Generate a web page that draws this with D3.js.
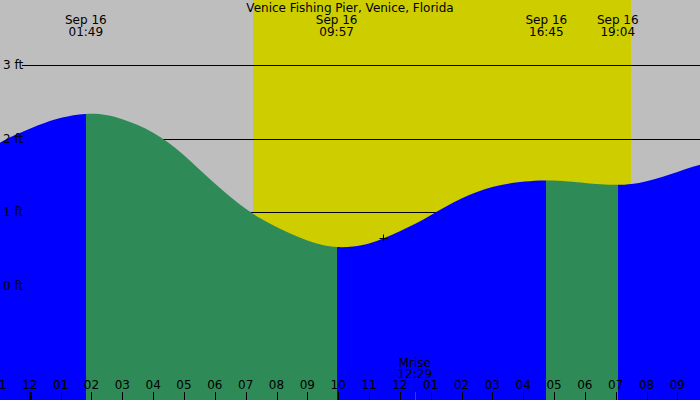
<!DOCTYPE html>
<html>
<head>
<meta charset="utf-8">
<script src="https://cdn.jsdelivr.net/npm/d3@7"></script>
<style>
  body { margin: 0; background: #fff; }
  svg { display: block; }
  text { font-family: "DejaVu Sans", sans-serif; font-size: 12px; fill: #000; }
</style>
</head>
<body>
<svg id="chart" width="700" height="400"></svg>
<script>
// tide heights (ft), every half hour plus the turns
const tideTimes = [
    '09-15 23:00', '09-15 23:30', '09-16 00:00', '09-16 00:30', '09-16 01:00', '09-16 01:49',
    '09-16 02:30', '09-16 03:00', '09-16 03:30', '09-16 04:00', '09-16 04:30', '09-16 05:00',
    '09-16 05:30', '09-16 06:00', '09-16 06:30', '09-16 07:00', '09-16 07:30', '09-16 08:00',
    '09-16 08:30', '09-16 09:00', '09-16 09:30', '09-16 09:57', '09-16 10:30', '09-16 11:00',
    '09-16 11:30', '09-16 12:00', '09-16 12:30', '09-16 13:00', '09-16 13:30', '09-16 14:00',
    '09-16 14:30', '09-16 15:00', '09-16 15:30', '09-16 16:00', '09-16 16:45', '09-16 17:30',
    '09-16 18:00', '09-16 18:30', '09-16 19:04', '09-16 19:30', '09-16 20:00', '09-16 20:30',
    '09-16 21:00', '09-16 21:30', '09-16 22:00'
];
const tideHeights = [
    1.94, 2.05, 2.14, 2.22, 2.29, 2.35,
    2.33, 2.27, 2.19, 2.09, 1.95, 1.78,
    1.58, 1.39, 1.21, 1.04, 0.91, 0.80,
    0.70, 0.61, 0.55, 0.52, 0.53, 0.57,
    0.65, 0.74, 0.84, 0.96, 1.08, 1.19,
    1.28, 1.35, 1.39, 1.42, 1.44, 1.42,
    1.40, 1.38, 1.37, 1.38, 1.42, 1.48,
    1.55, 1.62, 1.68
];

// high / low tides
const extremeTimes = ['09-16 01:49', '09-16 09:57', '09-16 16:45', '09-16 19:04'];
const extremeTypes = ['H', 'L', 'H', 'L'];

const heightTicks = [0, 1, 2, 3];

const sunrise = '09-16 07:15';
const sunset = '09-16 19:29';
const moonrise = '09-16 12:29';
const nowTime = '09-16 11:28';
const nowHeight = 0.65;

const title = 'Venice Fishing Pier, Venice, Florida';

const parse = d3.timeParse('%m-%d %H:%M');
const width = 700;
const height = 400;

const svg = d3.select('#chart');

const x = d3.scaleTime()
    .domain([parse('09-15 23:02'), parse('09-16 21:44')])
    .range([0, width]);

const y = d3.scaleLinear()
    .domain([0, 3])
    .range([285.8, 65.3]);

const tide = tideTimes.map((t, i) => ({ date: parse(t), h: tideHeights[i] }));

// background + daylight
svg.append('rect')
    .attr('width', width)
    .attr('height', height)
    .attr('fill', '#bebebe');

svg.append('rect')
    .attr('x', Math.round(x(parse(sunrise))))
    .attr('width', Math.round(x(parse(sunset))) - Math.round(x(parse(sunrise))))
    .attr('height', height)
    .attr('fill', '#cdcd00');

// grid lines sit under the water
svg.selectAll('line.grid')
    .data(heightTicks)
    .enter()
    .append('line')
    .classed('grid', true)
    .attr('x1', 22)
    .attr('x2', width)
    .attr('y1', d => Math.round(y(d)) + 0.5)
    .attr('y2', d => Math.round(y(d)) + 0.5)
    .attr('stroke', '#000')
    .attr('stroke-width', 1);

// water, split at each high/low: rising blue, falling green
const bounds = [x.domain()[0]].concat(extremeTimes.map(parse), [x.domain()[1]]);
const segments = bounds.slice(0, -1).map((b, i) => {
    let rising;
    if (i < extremeTypes.length) rising = extremeTypes[i] === 'H';
    else rising = extremeTypes[extremeTypes.length - 1] === 'L';
    return { from: b, to: bounds[i + 1], color: rising ? '#0000ff' : '#2e8b57' };
});

const area = d3.area()
    .x(d => x(d.date))
    .y0(height)
    .y1(d => y(d.h))
    .curve(d3.curveBasis);

const defs = svg.append('defs');
segments.forEach((s, i) => {
    const x0 = Math.round(x(s.from));
    const x1 = Math.round(x(s.to));
    defs.append('clipPath')
        .attr('id', 'seg-' + i)
        .append('rect')
        .attr('x', x0)
        .attr('width', x1 - x0)
        .attr('y', 0)
        .attr('height', height);

    svg.append('path')
        .datum(tide)
        .attr('d', area)
        .attr('fill', s.color)
        .attr('clip-path', `url(#seg-${i})`);
});

// height labels
svg.selectAll('text.ylabel')
    .data(heightTicks)
    .enter()
    .append('text')
    .classed('ylabel', true)
    .attr('x', 3)
    .attr('y', d => y(d) + 4)
    .text(d => d + ' ft');

// hour ticks along the bottom
const hours = d3.timeHour.range(d3.timeHour.floor(x.domain()[0]), x.domain()[1]);

svg.selectAll('line.tick')
    .data(hours)
    .enter()
    .append('line')
    .classed('tick', true)
    .attr('x1', d => Math.round(x(d)) + 0.5)
    .attr('x2', d => Math.round(x(d)) + 0.5)
    .attr('y1', 392)
    .attr('y2', height)
    .attr('stroke', '#000')
    .attr('stroke-width', d => (d.getHours() === 0 ? 3 : 1));

svg.selectAll('text.hour')
    .data(hours)
    .enter()
    .append('text')
    .classed('hour', true)
    .attr('x', d => x(d))
    .attr('y', 389)
    .attr('text-anchor', 'middle')
    .text(d3.timeFormat('%I'));

// moonrise
const mx = x(parse(moonrise));
svg.append('line')
    .attr('x1', Math.round(mx) + 0.5)
    .attr('x2', Math.round(mx) + 0.5)
    .attr('y1', 392)
    .attr('y2', height)
    .attr('stroke', '#ff0000')
    .attr('stroke-width', 1);

const mr = svg.append('text').attr('text-anchor', 'middle');
mr.append('tspan').attr('x', mx).attr('y', 366.5).text('Mrise');
mr.append('tspan').attr('x', mx).attr('y', 378).text(d3.timeFormat('%H:%M')(parse(moonrise)));

// high / low labels on top
extremeTimes.forEach(t => {
    const d = parse(t);
    const label = svg.append('text').attr('text-anchor', 'middle');
    label.append('tspan').attr('x', x(d)).attr('y', 24).text(d3.timeFormat('%b %d')(d));
    label.append('tspan').attr('x', x(d)).attr('y', 35.5).text(d3.timeFormat('%H:%M')(d));
});

svg.append('text')
    .attr('x', width / 2)
    .attr('y', 12)
    .attr('text-anchor', 'middle')
    .text(title);

// current time marker
const nx = Math.round(x(parse(nowTime))) + 0.5;
const ny = Math.round(y(nowHeight)) + 0.5;
svg.append('path')
    .attr('d', `M${nx - 4},${ny}H${nx + 4}M${nx},${ny - 4}V${ny + 4}`)
    .attr('stroke', '#000')
    .attr('stroke-width', 1)
    .attr('fill', 'none');
</script>
</body>
</html>
